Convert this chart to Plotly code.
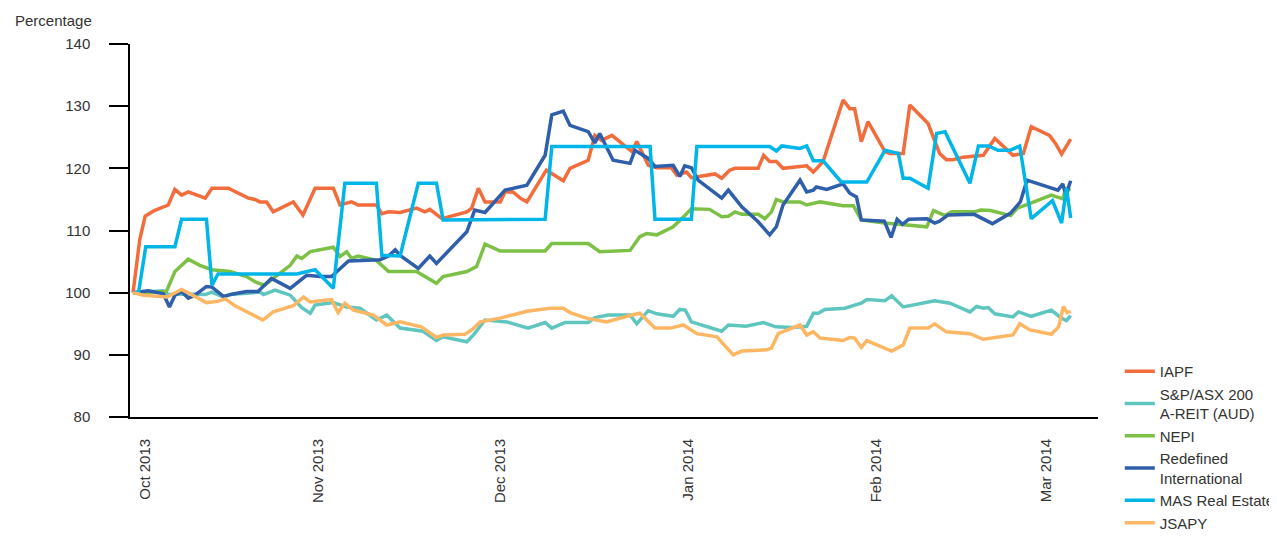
import numpy as np
import pandas as pd
import plotly.graph_objects as go

# ---- data (days after 2013-10-01, percentage values) ----
iapf_days = [0.5, 1.6, 2.5, 4, 6.3, 7.4, 8.5, 9.6, 12.4, 13.5, 16.2, 19.5, 20.6, 21.4, 22.5, 23.6, 26.9, 28.5,
             30.5, 33.5, 34.6, 36.5, 37.6, 40.6, 41.5, 42.6, 44.5, 47.2, 48.6, 49.4, 51.4, 55.5, 56.3, 57.4,
             58.5, 61, 61.8, 63.1, 64.3, 65.4, 68.6, 71.4, 72.5, 75.5, 76.6, 77.7, 79.4, 82.7, 83.5, 85.4,
             86.8, 89.2, 90.1, 91.7, 92.5, 96.4, 97.5, 98.8, 99.7, 103.5, 104.4, 105.4, 106.5, 107.6, 111.5,
             112.6, 114.2, 117.5, 118.6, 119.4, 120.5, 121.6, 124.4, 125.2, 127.4, 128.5, 131.5, 133.4, 134.5,
             135.6, 137.3, 140.6, 142.5, 145.5, 147.2, 148.5, 151.5, 152.5, 153.5, 155]
iapf_vals = [100, 108.5, 112.3, 113.2, 114.1, 116.6, 115.7, 116.2, 115.2, 116.8, 116.8, 115.2, 115, 114.6, 114.6,
             113, 114.6, 112.5, 116.8, 116.8, 114.1, 114.6, 114.1, 114.1, 112.7, 113, 112.9, 113.6, 113, 113.4,
             111.9, 113, 113.6, 116.8, 114.6, 114.6, 116.2, 116.2, 115.2, 114.6, 119.7, 118, 120, 121.3, 125.3,
             124.5, 125.3, 122.7, 124.3, 120.5, 120.1, 120.1, 118.9, 119.4, 118.5, 119.1, 118.4, 119.7, 120, 120,
             122.1, 121.1, 121.1, 120, 120.4, 119.4, 121.1, 131, 129.6, 129.6, 124.3, 127.5, 122.7, 122.4, 122.4,
             130.2, 127.2, 122.4, 121.4, 121.4, 121.8, 122.1, 124.8, 122.1, 122.4, 126.7, 125.3, 124, 122.3, 124.7]

areit_days = [0.5, 4.9, 5.5, 6.3, 9.3, 12.4, 13.5, 15.4, 16.5, 21.4, 22, 23.9, 26.4, 28.3, 29.7, 30.5, 33.5,
              35.7, 37.9, 40.6, 42.3, 44.5, 48.3, 50.5, 51.6, 55.5, 56.6, 58.5, 62.1, 65.6, 68.4, 69.5, 71.7,
              75.5, 76.6, 78.8, 82.4, 83.5, 85.4, 86.8, 89.5, 90.6, 91.5, 92.5, 97.5, 98.6, 101.5, 104.4, 106.4,
              109.1, 110.4, 111.5, 112.6, 113.4, 114.5, 117.8, 119.4, 120.5, 121.4, 124.4, 125.5, 127.4, 132.6,
              135.1, 138.4, 139.5, 140.6, 141.4, 142.5, 145.5, 146.4, 148.5, 151.8, 153.5, 154.3, 155]
areit_vals = [100, 100.2, 100.3, 99.7, 99.8, 99.7, 100.1, 99.3, 99.7, 100.1, 99.7, 100.4, 99.6, 97.6, 96.7, 98,
              98.4, 97.7, 97.5, 95.6, 96.4, 94.3, 93.8, 92.3, 92.9, 92.1, 93.2, 95.6, 95.3, 94.3, 95.2, 94.3,
              95.2, 95.2, 96, 96.4, 96.4, 95, 97.1, 96.6, 96.2, 97.3, 97.2, 95.3, 93.8, 94.8, 94.6, 95.2, 94.5,
              94.4, 94.5, 94.6, 96.7, 96.7, 97.3, 97.5, 98, 98.3, 98.9, 98.7, 99.5, 97.7, 98.7, 98.3, 96.9, 97.8,
              97.5, 97.6, 96.6, 96.1, 96.9, 96.2, 97.2, 95.9, 95.5, 96.3]

nepi_days = [0.5, 6.0, 7.4, 9.6, 11.5, 13.5, 16.5, 19.2, 20.9, 22.2, 23.6, 26.4, 27.5, 28.3, 29.7, 33.5, 34.6,
             35.7, 36.5, 37.6, 40.6, 42.6, 47.2, 50.5, 51.6, 55.5, 57.1, 58.5, 61, 68.4, 69.5, 75.5, 77.4, 82.4,
             84, 85.1, 86.8, 89.5, 90.9, 92.5, 95.5, 97.5, 98.6, 99.7, 100.8, 103.5, 104.6, 105.7, 106.5, 107.6,
             110.4, 111.5, 113.7, 117.5, 119.2, 120.5, 124.3, 127.3, 131.3, 132.4, 134.3, 135.4, 139.1, 140.2,
             141.8, 145.1, 146.2, 148.1, 151.8, 153.7, 154.2, 155]
nepi_vals = [100, 100.2, 103.4, 105.4, 104.4, 103.7, 103.4, 102.6, 101.6, 101.2, 102.3, 104.4, 105.9, 105.5, 106.6,
             107.3, 105.8, 106.6, 105.5, 105.9, 105.2, 103.4, 103.4, 101.5, 102.6, 103.4, 104.2, 107.8, 106.7,
             106.7, 107.9, 107.9, 106.6, 106.8, 109, 109.5, 109.3, 110.6, 111.9, 113.5, 113.4, 112.2, 112.3, 113,
             112.6, 112.6, 111.9, 113, 115, 114.6, 114.6, 114.1, 114.6, 114, 114, 111.7, 111.2, 111, 110.6, 113.2,
             112.4, 113, 113, 113.3, 113.2, 112.4, 113.6, 114.3, 115.7, 115.1, 116.7, 116.5]

redef_days = [0.5, 3, 5.5, 6.5, 7.4, 8.5, 9.6, 10.7, 12.6, 13.5, 15.4, 17, 19.2, 21.1, 23.3, 26.4, 29.1, 31.3,
              33.2, 36, 41.2, 42.6, 43.7, 44.5, 47.5, 49.4, 50.5, 55.5, 56.8, 58.5, 61.8, 65.4, 68.4, 69.5, 71.4,
              72.5, 75.5, 76.6, 77.4, 79.6, 82.4, 83.2, 85.4, 86.5, 89.5, 90.6, 91.4, 92.5, 93.6, 97.5, 98.6,
              100.8, 103.5, 105.4, 106.5, 107.6, 110.4, 111.5, 112.6, 113.1, 114.8, 117.5, 118.6, 119.7, 120.5,
              124.3, 125.4, 126.4, 127.3, 128.3, 131.3, 132.6, 133.4, 134.8, 139.1, 142.1, 145.1, 146.7, 147.8,
              152.9, 153.7, 154.2, 155]
redef_vals = [100, 100.3, 99.8, 97.7, 99.6, 100.2, 99.1, 99.6, 101, 100.9, 99.4, 99.8, 100.2, 100.2, 102.3, 100.7,
              102.8, 102.6, 102.6, 105.1, 105.3, 105.9, 106.9, 106, 103.9, 105.9, 104.7, 109.8, 113.3, 112.9,
              116.5, 117.3, 122.1, 128.6, 129.2, 126.9, 125.9, 124.1, 125.6, 121.3, 120.8, 122.9, 121.6, 120.3,
              120.5, 118.7, 120.4, 120.1, 118.1, 115.2, 116.5, 113.8, 111.4, 109.3, 110.6, 114.1, 118.1, 116.2,
              116.5, 117, 116.6, 117.5, 116, 115.4, 111.7, 111.5, 108.9, 111.8, 111, 111.8, 111.9, 111.2, 111.5,
              112.5, 112.6, 111.1, 112.8, 114.6, 118.1, 116.5, 117.5, 115.7, 118]

mas_days = [0.5, 1.4, 2.6, 7.4, 8.5, 12.6, 13.5, 14.5, 27.5, 29.1, 30.5, 33.5, 35.4, 40.6, 41.5, 44.5, 47.5,
            50.5, 51.6, 68.4, 69.5, 85.7, 86.5, 92.5, 93.4, 105.4, 106.5, 107.4, 110.4, 111.5, 112.6, 114.2,
            117.2, 121.4, 124.4, 126.6, 127.4, 128.5, 131.5, 132.9, 134.3, 138.4, 139.8, 141.5, 143, 145, 146.6,
            148.5, 152, 153.5, 154.3, 155]
mas_vals = [100, 100, 107.4, 107.4, 111.8, 111.8, 101.2, 103, 103, 103.4, 103.7, 100.7, 117.6, 117.6, 106, 105.9,
            117.6, 117.6, 111.7, 111.8, 123.5, 123.5, 111.8, 111.8, 123.5, 123.5, 122.8, 123.6, 123.2, 123.6,
            121.2, 121.2, 117.8, 117.8, 122.9, 122.4, 118.4, 118.4, 116.8, 125.6, 125.9, 117.6, 123.6, 123.6,
            122.9, 122.9, 123.6, 111.9, 114.8, 111.2, 116.8, 112]

jsapy_days = [0.5, 2.2, 6.1, 8.5, 9.9, 12.6, 14.5, 15.7, 17.3, 21.9, 23.6, 26.9, 28.6, 29.7, 33.2, 34.3, 35.4,
              36.8, 40.1, 42.3, 44.5, 48, 50.5, 51.6, 55.2, 56.3, 57.7, 61, 65.4, 69.2, 71.4, 72.5, 75.2, 78.5,
              82.7, 84, 86.5, 89, 91.2, 93.4, 96.7, 99.4, 100.8, 104.9, 105.7, 106.8, 110.4, 111.5, 112.6, 113.7,
              117.5, 118.6, 119.4, 120.5, 121.4, 125.5, 127.4, 128.5, 131.5, 132.6, 134.5, 138.4, 140.6, 142.2,
              145.5, 146.6, 148.3, 151.8, 153, 153.8, 154.4, 155]
jsapy_vals = [100, 99.6, 99.3, 100.5, 99.8, 98.4, 98.6, 99, 97.9, 95.6, 96.9, 97.9, 99.3, 98.5, 98.9, 96.8, 98.3,
              97.2, 96.4, 94.8, 95.3, 94.5, 92.8, 93.2, 93.3, 94, 95.3, 95.9, 97, 97.5, 97.5, 96.8, 95.9, 95.3,
              96.4, 96.7, 94.3, 94.3, 94.8, 93.4, 92.9, 90, 90.6, 90.8, 91.1, 93.4, 94.8, 93.2, 93.7, 92.7, 92.3,
              92.8, 92.7, 91.2, 92.3, 90.6, 91.6, 94.3, 94.3, 95, 93.7, 93.4, 92.5, 92.7, 93.2, 95, 94, 93.3,
              94.5, 97.8, 96.8, 97]

series_names = ["IAPF", "S&P/ASX 200<br>A-REIT (AUD)", "NEPI", "Redefined<br>International",
                "MAS Real Estate", "JSAPY"]
series_colors = ["#F26C3C", "#5EC6BE", "#7CC145", "#2F5FAA", "#00B5E8", "#FDB764"]
series_days = [iapf_days, areit_days, nepi_days, redef_days, mas_days, jsapy_days]
series_vals = [iapf_vals, areit_vals, nepi_vals, redef_vals, mas_vals, jsapy_vals]

tick_dates = ["2013-10-03 12:00", "2013-11-01", "2013-12-01", "2014-01-01", "2014-02-01", "2014-03-01"]
tick_text = ["Oct 2013", "Nov 2013", "Dec 2013", "Jan 2014", "Feb 2014", "Mar 2014"]
y_ticks = [80, 90, 100, 110, 120, 130, 140]

base = pd.Timestamp("2013-10-01")

fig = go.Figure()
for name, color, d, v in zip(series_names, series_colors, series_days, series_vals):
    x = base + pd.to_timedelta(np.array(d, dtype=float), unit="D")
    fig.add_trace(go.Scatter(x=x, y=v, mode="lines", name=name,
                             line=dict(color=color, width=3.5)))

FONT = "Liberation Sans, Arial, sans-serif"
# the page body has an 8px margin, so the figure is 8px smaller and margins are shifted accordingly
fig.update_layout(
    width=1269, height=537,
    margin=dict(l=122, r=179, t=36, b=128, autoexpand=False),
    paper_bgcolor="white", plot_bgcolor="white",
    font=dict(family=FONT, size=15, color="#333333"),
    showlegend=True,
    legend=dict(x=1.0225, xanchor="left", y=0.166, yanchor="top",
                font=dict(size=15, color="#333333"), tracegroupgap=0,
                bgcolor="rgba(0,0,0,0)"),
    xaxis=dict(type="date", range=["2013-10-01", "2014-03-09 12:00"],
               tickvals=tick_dates, ticktext=tick_text, tickangle=-90,
               showline=True, linecolor="black", linewidth=1.8,
               ticks="", showgrid=False, zeroline=False, ticklabelstandoff=14,
               tickfont=dict(size=15, color="#333333")),
    yaxis=dict(range=[80, 140], tickvals=y_ticks, showline=True, linecolor="black",
               linewidth=1.5, ticks="outside", ticklen=19, tickwidth=1.5, tickcolor="black",
               showgrid=False, zeroline=False, ticklabelstandoff=16,
               tickfont=dict(size=15, color="#333333")),
    annotations=[dict(text="Percentage", xref="paper", yref="paper", x=-0.1209, y=1.064,
                      xanchor="left", yanchor="middle", showarrow=False,
                      font=dict(size=15, color="#333333"))],
)

fig.write_html("out.html")
